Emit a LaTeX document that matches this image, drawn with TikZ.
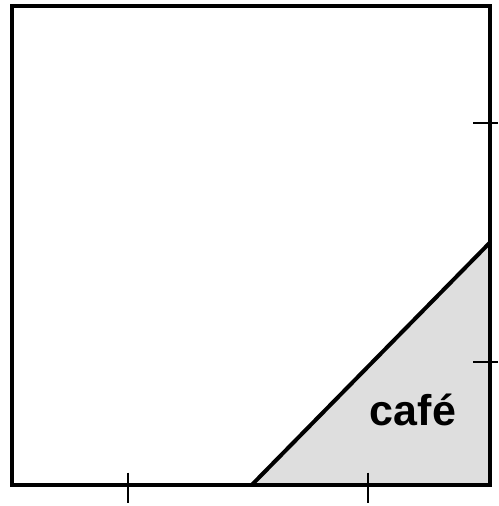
\documentclass[tikz,border=0pt]{standalone}
\usepackage{fontspec}
\setmainfont{Liberation Sans}
\definecolor{regiongray}{RGB}{222,222,222}
\begin{document}
\begin{tikzpicture}[x=1pt,y=1pt,
  frame/.style={line width=4pt,line join=miter},
  tick/.style={line width=2pt},
  lbl/.style={font=\fontsize{43}{43}\selectfont\bfseries,inner sep=0pt}]
\useasboundingbox (0,0) rectangle (498,506);
\coordinate (ll) at (11.5,21);
\coordinate (ur) at (489.5,500);
\coordinate (lr) at (489.5,21);
\coordinate (b) at (251.7,21);
\coordinate (r) at (489.5,263);
\fill[regiongray] (b) -- (r) -- (lr) -- cycle;
\draw[frame] (b) -- (r);
\draw[frame] (ll) rectangle (ur);
\draw[tick] (128,33.3) -- (128,3);
\draw[tick] (368,33.3) -- (368,3);
\draw[tick] (473,382.7) -- (498,382.7);
\draw[tick] (473,144.3) -- (498,144.3);
\node[lbl] (cafe) at (413,96) {café};
\end{tikzpicture}
\end{document}
